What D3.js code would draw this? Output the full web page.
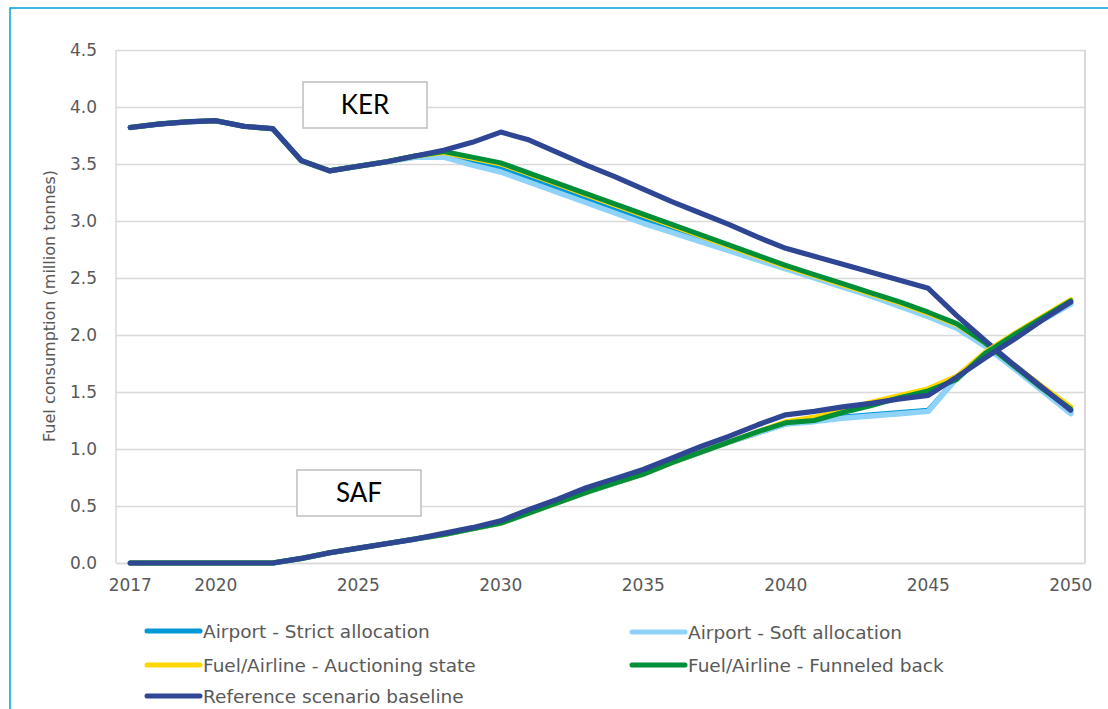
<!DOCTYPE html>
<html><head><meta charset="utf-8">
<script src="https://cdn.jsdelivr.net/npm/d3@7/dist/d3.min.js"></script>
<style>body{margin:0;background:#fff;} svg{display:block}</style>
</head><body>
<svg id="c" width="1108" height="709"></svg>
<script>
const years = [2017,2018,2019,2020,2021,2022,2023,2024,2025,2026,2027,2028,2029,2030,2031,2032,2033,2034,2035,2036,2037,2038,2039,2040,2041,2042,2043,2044,2045,2046,2047,2048,2049,2050];
const xTickLabels = [2017,2020,2025,2030,2035,2040,2045,2050];
const yTicks = [0,0.5,1,1.5,2,2.5,3,3.5,4,4.5];

// KER series
const kerReference = [3.82,3.85,3.87,3.88,3.83,3.81,3.53,3.44,3.48,3.52,3.57,3.62,3.69,3.78,3.71,3.60,3.49,3.39,3.28,3.17,3.07,2.97,2.86,2.76,2.69,2.62,2.55,2.48,2.41,2.17,1.95,1.74,1.54,1.34];
const kerFunneled = [3.82,3.85,3.87,3.88,3.83,3.81,3.53,3.44,3.48,3.52,3.57,3.61,3.56,3.51,3.42,3.33,3.24,3.15,3.06,2.97,2.88,2.79,2.70,2.61,2.53,2.45,2.37,2.29,2.20,2.10,1.93,1.73,1.53,1.35];
const kerAuction = [3.82,3.85,3.87,3.88,3.83,3.81,3.53,3.44,3.48,3.52,3.57,3.60,3.55,3.50,3.41,3.32,3.23,3.14,3.05,2.96,2.87,2.78,2.69,2.60,2.52,2.44,2.36,2.28,2.19,2.09,1.93,1.74,1.55,1.37];
const kerStrict = [3.82,3.85,3.87,3.88,3.83,3.81,3.53,3.44,3.48,3.52,3.57,3.58,3.52,3.46,3.37,3.28,3.19,3.10,3.02,2.93,2.85,2.76,2.68,2.60,2.52,2.44,2.35,2.27,2.18,2.08,1.91,1.72,1.52,1.32];
const kerSoft = [3.82,3.85,3.87,3.88,3.83,3.81,3.53,3.44,3.48,3.52,3.56,3.56,3.49,3.43,3.34,3.25,3.16,3.07,2.98,2.90,2.82,2.74,2.66,2.58,2.50,2.42,2.34,2.25,2.16,2.06,1.90,1.71,1.51,1.31];

// SAF series
const safReference = [0,0,0,0,0,0,0.04,0.09,0.13,0.17,0.21,0.26,0.31,0.37,0.47,0.56,0.66,0.74,0.82,0.92,1.02,1.11,1.21,1.30,1.33,1.37,1.40,1.44,1.47,1.63,1.80,1.96,2.13,2.29];
const safFunneled = [0,0,0,0,0,0,0.04,0.09,0.13,0.17,0.21,0.25,0.30,0.35,0.44,0.53,0.62,0.70,0.78,0.88,0.97,1.06,1.15,1.23,1.25,1.32,1.38,1.45,1.51,1.61,1.84,2.00,2.15,2.30];
const safAuction = [0,0,0,0,0,0,0.04,0.09,0.13,0.17,0.21,0.25,0.30,0.35,0.44,0.53,0.62,0.70,0.78,0.88,0.97,1.06,1.15,1.24,1.28,1.34,1.41,1.47,1.53,1.64,1.85,2.01,2.16,2.31];
const safStrict = [0,0,0,0,0,0,0.04,0.09,0.13,0.17,0.21,0.25,0.30,0.35,0.44,0.53,0.62,0.70,0.78,0.88,0.97,1.06,1.14,1.22,1.25,1.28,1.30,1.32,1.34,1.62,1.84,1.99,2.14,2.28];
const safSoft = [0,0,0,0,0,0,0.04,0.09,0.13,0.17,0.21,0.25,0.30,0.35,0.44,0.53,0.62,0.70,0.78,0.88,0.97,1.06,1.14,1.22,1.24,1.27,1.29,1.31,1.33,1.62,1.84,1.99,2.13,2.27];

const seriesNames = ["Airport - Strict allocation","Airport - Soft allocation","Fuel/Airline - Auctioning state","Fuel/Airline - Funneled back","Reference scenario baseline"];
const seriesColors = ["#0098D6","#8FD3FA","#FFD700","#008F39","#2E4693"];
const kerData = [kerStrict, kerSoft, kerAuction, kerFunneled, kerReference];
const safData = [safStrict, safSoft, safAuction, safFunneled, safReference];
const boxTexts = ["KER","SAF"];

const svg = d3.select("#c");
const plot = {l:116, r:1085, t:50, b:563};

// outer frame
svg.append("rect").attr("x",10).attr("y",8).attr("width",1300).attr("height",900)
  .attr("fill","none").attr("stroke","#00A0DC").attr("stroke-width",1.5);

const x = d3.scaleBand().domain(years).range([plot.l, plot.r]);
const xc = d => x(d) + x.bandwidth()/2;
const y = d3.scaleLinear().domain([0,4.5]).range([plot.b, plot.t]);

// gridlines + y tick labels
const yAxis = d3.axisLeft(y).tickValues(yTicks).tickSize(-(plot.r-plot.l)).tickPadding(19).tickFormat(d3.format(".1f"));
const gy = svg.append("g").attr("transform",`translate(${plot.l},0)`).call(yAxis);
gy.select(".domain").remove();
gy.selectAll(".tick line").attr("stroke","#D9D9D9").attr("stroke-width",1.5);
gy.selectAll(".tick text").attr("fill","#595959").style("font-family","DejaVu Sans, sans-serif").style("font-size","17px");

// plot frame (left/right)
svg.append("line").attr("x1",plot.l).attr("x2",plot.l).attr("y1",plot.t).attr("y2",plot.b).attr("stroke","#D9D9D9").attr("stroke-width",1.5);
svg.append("line").attr("x1",plot.r).attr("x2",plot.r).attr("y1",plot.t).attr("y2",plot.b).attr("stroke","#D9D9D9").attr("stroke-width",2);

const xAxis = d3.axisBottom(x).tickValues(xTickLabels).tickSize(0).tickPadding(16);
const gx = svg.append("g").attr("transform",`translate(0,${plot.b})`).call(xAxis);
gx.select(".domain").attr("stroke","#D9D9D9").attr("stroke-width",1.5);
gx.selectAll(".tick text").attr("fill","#595959").style("font-family","DejaVu Sans, sans-serif").style("font-size","17px");

// y label
svg.append("text").attr("transform",`translate(55,306) rotate(-90)`)
  .attr("text-anchor","middle").attr("fill","#595959")
  .style("font-family","DejaVu Sans, sans-serif").style("font-size","16px")
  .text("Fuel consumption (million tonnes)");

// lines
const line = d3.line().x((d,i)=>xc(years[i])).y(d=>y(d)).curve(d3.curveLinear);
const widths = [5,5.5,5,5,5.2];
[kerData, safData].forEach(group => {
  group.forEach((arr,i) => {
    svg.append("path").datum(arr).attr("d",line).attr("fill","none")
      .attr("stroke",seriesColors[i]).attr("stroke-width",widths[i])
      .attr("stroke-linejoin","round").attr("stroke-linecap","round");
  });
});

// KER / SAF boxes
const boxPos = [[303,82],[297,470]];
boxTexts.forEach((t,i) => {
  const [bx,by] = boxPos[i];
  svg.append("rect").attr("x",bx).attr("y",by).attr("width",124).attr("height",46)
    .attr("fill","#fff").attr("stroke","#BFBFBF").attr("stroke-width",1.5);
  svg.append("text").attr("x",bx+62).attr("y",by+23).attr("dy","0.36em")
    .attr("text-anchor","middle").attr("fill","#000")
    .style("font-family","Lato, sans-serif").style("font-size","26px").text(t);
});

// legend
const legPos = [[147,631],[632,632],[147,665],[632,665],[147,696]];
seriesNames.forEach((n,i) => {
  const [lx,ly] = legPos[i];
  svg.append("line").attr("x1",lx).attr("x2",lx+53).attr("y1",ly).attr("y2",ly)
    .attr("stroke",seriesColors[i]).attr("stroke-width",5).attr("stroke-linecap","round");
  svg.append("text").attr("x",lx+56).attr("y",ly).attr("dy","0.36em").attr("fill","#595959")
    .style("font-family","DejaVu Sans, sans-serif").style("font-size","18.5px").text(n);
});
</script>
</body></html>
